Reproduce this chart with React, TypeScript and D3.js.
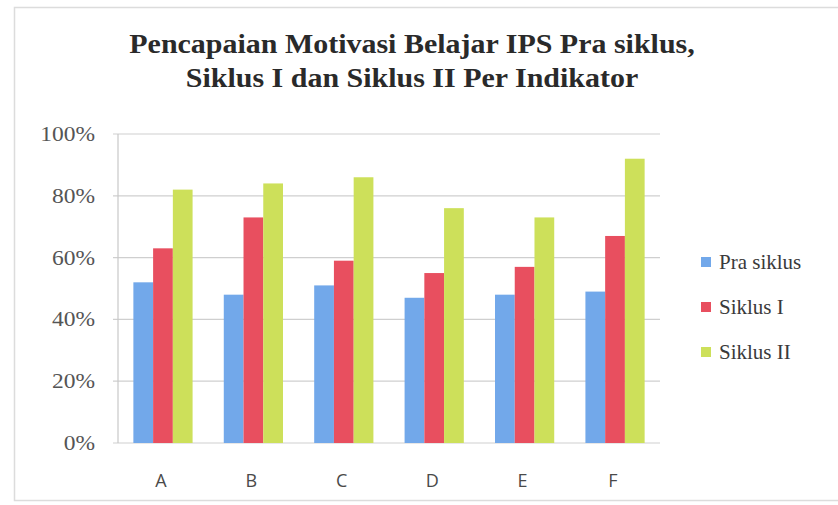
import React from "react";
import * as d3 from "d3";

const categories = ["A", "B", "C", "D", "E", "F"];
const seriesNames = ["Pra siklus", "Siklus I", "Siklus II"];
const praSiklus = [52, 48, 51, 47, 48, 49];
const siklusI = [63, 73, 59, 55, 57, 67];
const siklusII = [82, 84, 86, 76, 73, 92];
const yTicks = [0, 20, 40, 60, 80, 100];
const titleLines = [
  "Pencapaian Motivasi Belajar IPS Pra siklus,",
  "Siklus I dan Siklus II Per Indikator",
];
const colors = ["#72a8ea", "#e84f5f", "#cde05a"];

export default function App() {
  const W = 838, H = 505;
  const left = 118, right = 660, top = 134, bottom = 443;
  const series = [praSiklus, siklusI, siklusII];
  const x = d3.scaleBand<string>().domain(categories).range([left, right]).paddingInner(0.345).paddingOuter(0.17);
  const x1 = d3.scaleBand<number>().domain([0, 1, 2]).range([0, x.bandwidth()]);
  const y = d3.scaleLinear().domain([0, 100]).range([bottom, top]);
  const serif = "'Liberation Serif', 'Times New Roman', serif";
  const sans = "'Open Sans', 'Liberation Sans', sans-serif";
  return (
    <svg width={W} height={H} style={{ position: "absolute", left: 0, top: 0 }}>
      <rect x={0} y={0} width={W} height={H} fill="#fff" />
      <rect x={14.5} y={7.5} width={W - 6} height={H - 12} fill="none" stroke="#dcdcdc" strokeWidth={1.5} />
      {titleLines.map((t, i) => (
        <text key={i} transform={`translate(412,${53 + i * 34}) scale(1.11,1)`} textAnchor="middle" fontFamily={serif} fontWeight="bold" fontSize={27} fill="#2a2a2a">{t}</text>
      ))}
      {yTicks.map((t) => (
        <g key={t}>
          <line x1={left - 5} x2={right} y1={y(t)} y2={y(t)} stroke="#cfcfcf" strokeWidth={1.2} />
          <text transform={`translate(95,${y(t) + 7}) scale(1.12,1)`} textAnchor="end" fontFamily={serif} fontSize={21} fill="#555">{t}%</text>
        </g>
      ))}
      <line x1={left} x2={left} y1={top} y2={bottom} stroke="#c8c8c8" strokeWidth={1.2} />
      {categories.map((c, i) => (
        <g key={c}>
          {series.map((s, j) => (
            <rect key={j} x={(x(c) as number) + (x1(j) as number)} y={y(s[i])} width={x1.bandwidth()} height={bottom - y(s[i])} fill={colors[j]} />
          ))}
          <text x={(x(c) as number) + x.bandwidth() / 2 - 2} y={487} textAnchor="middle" fontFamily={sans} fontSize={18} fill="#4a4a4a">{c}</text>
        </g>
      ))}
      {seriesNames.map((n, j) => (
        <g key={n}>
          <rect x={701} y={257 + j * 45} width={10} height={10} fill={colors[j]} />
          <text x={719} y={269 + j * 45} fontFamily={serif} fontSize={21} fill="#3a3a3a">{n}</text>
        </g>
      ))}
    </svg>
  );
}
